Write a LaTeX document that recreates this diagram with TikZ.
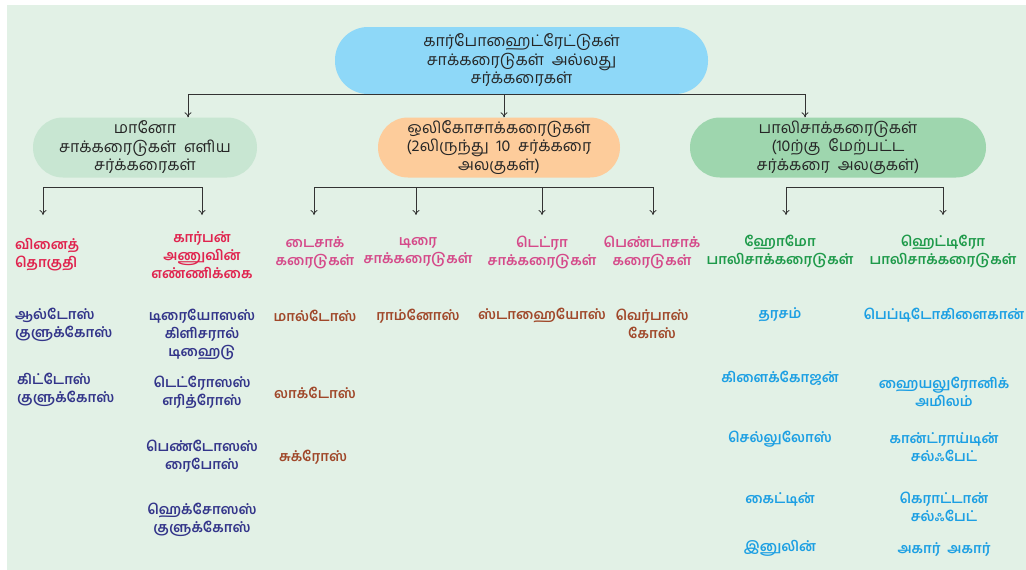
\documentclass[tikz,border=0pt]{standalone}
\usepackage{fontspec}
\newfontfamily\tam[Script=Tamil]{Hind Madurai}
\usetikzlibrary{arrows.meta}
\definecolor{bg}{HTML}{E2F1E6}
\definecolor{topc}{HTML}{8ED8F8}
\definecolor{monoc}{HTML}{C8E6D2}
\definecolor{oligoc}{HTML}{FDCC9B}
\definecolor{polyc}{HTML}{9ED6AE}
\definecolor{cred}{HTML}{E0234E}
\definecolor{cpink}{HTML}{D54A8A}
\definecolor{cnavy}{HTML}{33358A}
\definecolor{cbrown}{HTML}{A0482A}
\definecolor{cgreen}{HTML}{1E9A4A}
\definecolor{ccyan}{HTML}{1C9FE3}
\tikzset{
  boxnode/.style={rounded corners=30pt, minimum height=60pt, align=center, inner sep=0pt,
    font=\tam\fontsize{16}{18.5}\selectfont, text=black!85},
  lbl/.style={align=center, inner sep=0pt, font=\tam\bfseries\fontsize{14}{18}\selectfont},
  lbll/.style={lbl, align=left, anchor=west},
  conn/.style={draw=black!80, line width=0.8pt},
  arr/.style={conn, -{To[length=5pt,width=7pt]}},
  red/.style={text=cred}, pink/.style={text=cpink}, navy/.style={text=cnavy},
  brown/.style={text=cbrown}, grn/.style={text=cgreen}, cyn/.style={text=ccyan}
}
\begin{document}
\begin{tikzpicture}[x=1pt,y=-1pt]
\useasboundingbox (0,0) rectangle (1026,570);
\fill[bg] (7,5) rectangle (1026,570);

% main boxes
\node[boxnode, fill=topc, minimum width=373pt, minimum height=67pt, rounded corners=33pt] (carb) at (521.5,60.5)
  {கார்போஹைட்ரேட்டுகள்\\சாக்கரைடுகள்\ \ அல்லது\\சர்க்கரைகள்};
\node[boxnode, fill=monoc, minimum width=224pt] (mono) at (145,147.5)
  {மானோ\\சாக்கரைடுகள்\ \ எளிய\\சர்க்கரைகள்};
\node[boxnode, fill=oligoc, minimum width=242pt] (oligo) at (499,147.5)
  {ஒலிகோசாக்கரைடுகள்\\(2லிருந்து\ \ 10\ \ சர்க்கரை\\அலகுகள்)};
\node[boxnode, fill=polyc, minimum width=296pt] (poly) at (838,147.5)
  {பாலிசாக்கரைடுகள்\\(10ற்கு\ \ மேற்பட்ட\\சர்க்கரை\ \ அலகுகள்)};

% top connectors
\coordinate (tl) at (188,94);
\coordinate (tm) at (504,94);
\coordinate (tr) at (805,94);
\draw[conn] (tl) -- (tr);
\draw[arr] (tl) -- (tl |- mono.north);
\draw[arr] (tm) -- (tm |- oligo.north);
\draw[arr] (tr) -- (tr |- poly.north);

% second-level brackets
\coordinate (arow) at (0,215);
\coordinate (m1) at (43,187);  \coordinate (m2) at (202,187);
\coordinate (o1) at (314,187); \coordinate (o2) at (416,187);
\coordinate (o3) at (542,187); \coordinate (o4) at (653,187);
\coordinate (p1) at (786,187); \coordinate (p2) at (943,187);
\draw[conn] (m1) -- (m2);
\draw[conn] (o1) -- (o4);
\draw[conn] (p1) -- (p2);
\foreach \c in {m1,m2,o1,o2,o3,o4,p1,p2}
  \draw[arr] (\c) -- (\c |- arow);

% category labels
\node[lbll, red] (cls) at (15,254.5) {வினைத்\\தொகுதி};
\node[lbl, red] (ncarb) at (202,255) {கார்பன்\\அணுவின்\\எண்ணிக்கை};
\node[lbl, pink] (di) at (315,252.5) {டைசாக்\\கரைடுகள்};
\node[lbl, pink] (tri) at (418,252.5) {டிரை\\சாக்கரைடுகள்};
\node[lbl, pink] (tetra) at (542,252.5) {டெட்ரா\\சாக்கரைடுகள்};
\node[lbl, pink] (penta) at (652,252.5) {பெண்டாசாக்\\கரைடுகள்};
\node[lbl, grn] (homo) at (780,251.5) {ஹோமோ\\பாலிசாக்கரைடுகள்};
\node[lbl, grn] (hetero) at (943,251.5) {ஹெட்டிரோ\\பாலிசாக்கரைடுகள்};

% monosaccharide examples
\node[lbll, navy] (ald) at (15,325) {ஆல்டோஸ்\\குளுக்கோஸ்};
\node[lbll, navy] (ket) at (17,389.5) {கிட்டோஸ்\\குளுக்கோஸ்};
\node[lbl, navy] (trio) at (202,334.5) {டிரையோஸஸ்\\கிளிசரால்\\டிஹைடு};
\node[lbl, navy] (tetro) at (202,392.5) {டெட்ரோஸஸ்\\எரித்ரோஸ்};
\node[lbl, navy] (pento) at (202,456.5) {பெண்டோஸஸ்\\ரைபோஸ்};
\node[lbl, navy] (hexo) at (202,520) {ஹெக்சோஸஸ்\\குளுக்கோஸ்};

% oligosaccharide examples
\node[lbl, brown] (malt) at (315,316) {மால்டோஸ்};
\node[lbl, brown] (lact) at (315,393) {லாக்டோஸ்};
\node[lbl, brown] (sucr) at (313,457) {சுக்ரோஸ்};
\node[lbl, brown] (rham) at (418,316) {ராம்னோஸ்};
\node[lbl, brown] (stach) at (542,315) {ஸ்டாஹையோஸ்};
\node[lbl, brown] (verb) at (652,323.5) {வெர்பாஸ்\\கோஸ்};

% polysaccharide examples
\node[lbl, cyn] (starch) at (780,315) {தரசம்};
\node[lbl, cyn] (glyc) at (780,378) {கிளைக்கோஜன்};
\node[lbl, cyn] (cell) at (780,439) {செல்லுலோஸ்};
\node[lbl, cyn] (chit) at (780,499) {கைட்டின்};
\node[lbl, cyn] (inul) at (780,548) {இனுலின்};
\node[lbl, cyn] (pept) at (944,315) {பெப்டிடோகிளைகான்};
\node[lbl, cyn] (hyal) at (944,391.5) {ஹையலுரோனிக்\\அமிலம்};
\node[lbl, cyn] (chon) at (944,447) {கான்ட்ராய்டின்\\சல்ஃபேட்};
\node[lbl, cyn] (kera) at (944,507) {கெராட்டான்\\சல்ஃபேட்};
\node[lbl, cyn] (agar) at (944,549) {அகார்\ \ அகார்};
\end{tikzpicture}
\end{document}
